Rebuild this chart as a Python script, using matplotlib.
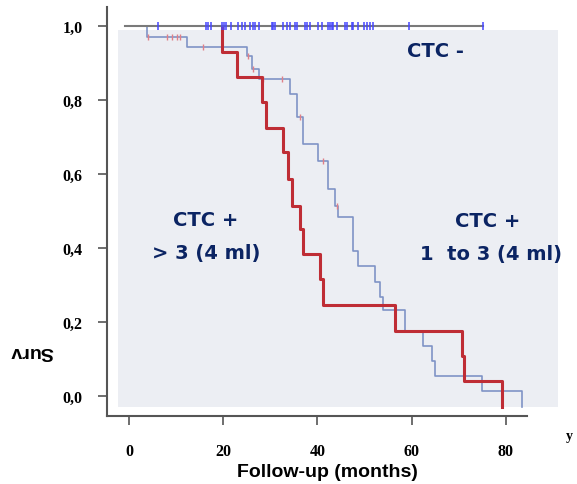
import matplotlib
matplotlib.use('Agg')
import matplotlib.pyplot as plt
from matplotlib.patches import Rectangle

# Kaplan-Meier curves, values
# CTC - : no events, flat at 1.0 with censoring ticks
neg_start, neg_end = -0.8, 75.1
neg_censor = [6.2, 16.3, 16.7, 17.4, 19.7, 20.2, 20.6, 21.7, 23.2, 23.9, 24.6,
              25.7, 26.3, 26.8, 27.7, 30.3, 30.6, 31.0, 32.8, 33.5, 34.2, 35.3,
              35.6, 37.4, 37.7, 38.4, 40.2, 40.9, 42.3, 42.7, 43.0, 43.4, 44.1,
              45.9, 46.3, 47.3, 47.6, 48.7, 49.8, 50.5, 51.2, 51.9, 59.5, 75.1]

# CTC + > 3 (4 ml)
hi_times = [19.7, 22.9, 28.2, 29.1, 32.7, 33.8, 34.6, 36.3, 36.9, 40.6, 41.2,
            56.5, 70.7, 71.1, 79.2]
hi_surv = [0.929, 0.861, 0.794, 0.723, 0.658, 0.585, 0.512, 0.450, 0.383,
           0.316, 0.245, 0.175, 0.107, 0.039, -0.03]

# CTC + 1 to 3 (4 ml)
lo_times = [3.8, 12.3, 25.1, 26.1, 27.6, 34.2, 35.7, 36.9, 40.1, 42.3, 43.7,
            44.4, 47.6, 48.6, 52.2, 53.3, 53.9, 58.6, 62.4, 64.3, 65.0, 74.9, 83.4]
lo_surv = [0.969, 0.943, 0.918, 0.883, 0.856, 0.815, 0.753, 0.680, 0.634,
           0.558, 0.512, 0.482, 0.390, 0.350, 0.306, 0.266, 0.231, 0.174,
           0.134, 0.093, 0.053, 0.012, -0.031]
lo_censor_t = [4.0, 8.1, 9.1, 10.2, 10.8, 15.7, 25.3, 26.3, 28.5, 32.5, 36.3, 41.2, 44.1]
lo_censor_s = [0.969, 0.969, 0.969, 0.969, 0.969, 0.943, 0.918, 0.883, 0.856,
               0.856, 0.753, 0.634, 0.512]

xticks = [0, 20, 40, 60, 80]
yticks = [0.0, 0.2, 0.4, 0.6, 0.8, 1.0]
ytick_labels = ['0,0', '0,2', '0,4', '0,6', '0,8', '1,0']

navy = '#0b2463'
W, H = 577, 485

fig = plt.figure(figsize=(W / 100, H / 100), dpi=100)
fig.patch.set_facecolor('white')

# grey scanned panel behind the curves
fig.add_artist(Rectangle((118 / W, 1 - 408 / H), (558 - 118) / W, (408 - 31) / H,
                         transform=fig.transFigure, facecolor='#eceef3',
                         edgecolor='none', zorder=-1))

ax = fig.add_axes([107 / W, 1 - 417 / H, (527 - 107) / W, (417 - 8) / H])
ax.patch.set_alpha(0)
ax.set_xlim(-4.67, 84.5)
ax.set_ylim(-0.0554, 1.0506)

for s in ['top', 'right']:
    ax.spines[s].set_visible(False)
for s in ['left', 'bottom']:
    ax.spines[s].set_color('#555555')
    ax.spines[s].set_linewidth(1.5)

ax.set_xticks(xticks)
ax.set_yticks(yticks)
ax.set_yticklabels(ytick_labels)
ax.tick_params(axis='both', direction='out', length=6.5, width=1.2, color='#555555')
ax.tick_params(axis='x', pad=13)
ax.tick_params(axis='y', pad=11)
for lab in ax.get_xticklabels() + ax.get_yticklabels():
    lab.set_fontfamily('Liberation Serif')
    lab.set_fontweight('bold')
    lab.set_fontsize(11.5)

# CTC - line with censoring ticks
ax.plot([neg_start, neg_end], [1.0, 1.0], color='#7a7a7a', lw=1.5, zorder=3)
ax.plot(neg_censor, [1.0] * len(neg_censor), ls='none', marker='|',
        ms=5.5, mew=1.1, color='#4646ff', zorder=4)

# CTC + 1 to 3
ax.step([lo_times[0]] + lo_times, [1.0] + lo_surv, where='post',
        color='#7f93c6', lw=1.2, zorder=2)
ax.plot(lo_censor_t, lo_censor_s, ls='none', marker='|', ms=4, mew=1,
        color='#e08088', zorder=2)

# CTC + > 3
ax.step([hi_times[0]] + hi_times, [1.0] + hi_surv, where='post',
        color='#bf2d35', lw=2.2, zorder=2)

txt = dict(color=navy, fontsize=14, fontweight='bold', family='DejaVu Sans',
           ha='center', va='center')
ax.text(65.0, 0.932, 'CTC -', **txt)
ax.text(16.3, 0.477, 'CTC +', **txt)
ax.text(16.3, 0.388, '> 3 (4 ml)', **txt)
ax.text(76.2, 0.472, 'CTC +', **txt)
ax.text(76.9, 0.385, '1  to 3 (4 ml)', **txt)

fig.text(327 / W, 1 - 477 / H, 'Follow-up (months)', ha='center', va='baseline',
         fontsize=14, fontweight='bold', family='Liberation Sans')
fig.text(32 / W, 1 - 352 / H, 'Surv', ha='center', va='center', rotation=180,
         fontsize=14, fontweight='bold', family='Liberation Sans')
fig.text(566 / W, 1 - 437 / H, 'y', ha='left', va='center', fontsize=10,
         fontweight='bold', family='Liberation Serif')

plt.savefig('out.png', dpi=100)
